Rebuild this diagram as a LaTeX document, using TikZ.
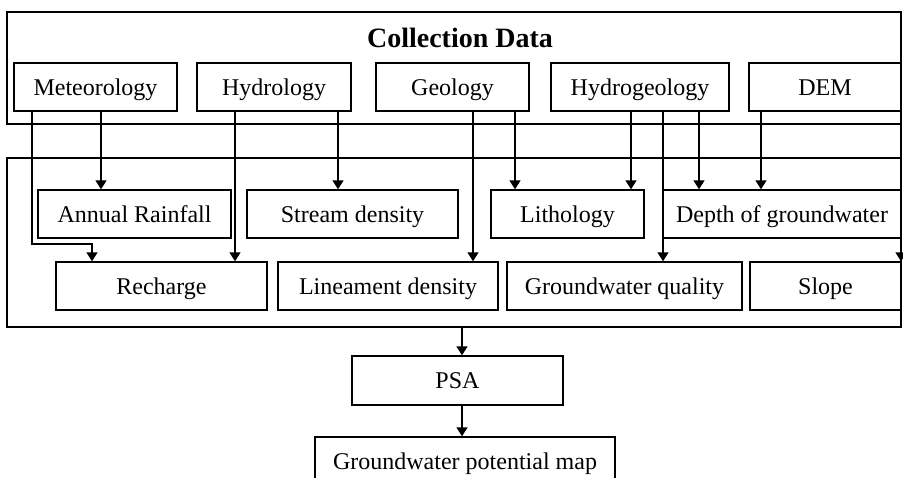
\documentclass[tikz,border=0pt]{standalone}
\usepackage{fontspec}
\setmainfont{Liberation Serif}
\usetikzlibrary{arrows.meta, positioning}

\begin{document}
\begin{tikzpicture}[x=0.5pt, y=-0.5pt, line width=0.7pt,
                    every node/.style={font=\fontsize{12}{14}\selectfont},
                    box/.style={draw, rectangle, inner sep=0pt, minimum height=24pt,
                                text height=8pt, text depth=0pt},
                    frame/.style={draw, rectangle, inner sep=0pt},
                    arr/.style={-{Triangle[width=5.5pt, length=4.5pt]}}]
    \useasboundingbox (0,0) rectangle (903,477);
    \clip (0,0) rectangle (903,477);
    % frames
    \node[frame, minimum width=447pt, minimum height=56pt] (collect) at (454,68) {};
    \node[frame, minimum width=447pt, minimum height=84.5pt] (param) at (454,242.5) {};
    \node[font=\fontsize{14}{16}\selectfont\bfseries, text height=9.5pt, text depth=0pt]
        (title) at (460,38) {Collection Data};
    % data sources
    \node[box, minimum width=81.5pt] (met) at (95.5,87) {Meteorology};
    \node[box, minimum width=77pt] (hyd) at (274,87) {Hydrology};
    \node[box, minimum width=76.5pt] (geo) at (452.5,87) {Geology};
    \node[box, minimum width=89pt] (hgeo) at (640,87) {Hydrogeology};
    \node[box, minimum width=76pt] (dem) at (825,87) {DEM};
    % parameters
    \node[box, minimum width=96.5pt] (rain) at (134.5,214) {Annual Rainfall};
    \node[box, minimum width=105.5pt] (stream) at (352.5,214) {Stream density};
    \node[box, minimum width=76.5pt] (litho) at (567.5,214) {Lithology};
    \node[box, minimum width=119pt] (depth) at (782,214) {Depth of groundwater};
    \node[box, minimum width=105.5pt] (rech) at (161.5,286) {Recharge};
    \node[box, minimum width=110pt] (lin) at (388,286) {Lineament density};
    \node[box, minimum width=117.5pt] (gwq) at (624.5,286) {Groundwater quality};
    \node[box, minimum width=75.5pt] (slope) at (825.5,286) {Slope};
    % analysis
    \node[box, minimum width=105.5pt, minimum height=24.5pt] (psa) at (457.5,380.5) {PSA};
    \node[box, minimum width=150pt] (gpm) at (465,461) {Groundwater potential map};
    % connectors
    \draw[arr] (101,0 |- met.south) -- (101,0 |- rain.north);
    \draw[arr] (32,0 |- met.south) -- (32,244) -- (92,244) -- (92,0 |- rech.north);
    \draw[arr] (235,0 |- hyd.south) -- (235,0 |- rech.north);
    \draw[arr] (338,0 |- hyd.south) -- (338,0 |- stream.north);
    \draw[arr] (473,0 |- geo.south) -- (473,0 |- lin.north);
    \draw[arr] (515,0 |- geo.south) -- (515,0 |- litho.north);
    \draw[arr] (631,0 |- hgeo.south) -- (631,0 |- litho.north);
    \draw[arr] (663,0 |- hgeo.south) -- (663,0 |- gwq.north);
    \draw[arr] (699,0 |- hgeo.south) -- (699,0 |- depth.north);
    \draw[arr] (761,0 |- dem.south) -- (761,0 |- depth.north);
    \draw[arr] (901,0 |- dem.south) -- (901,0 |- slope.north);
    \draw[arr] (462,0 |- param.south) -- (462,0 |- psa.north);
    \draw[arr] (462,0 |- psa.south) -- (462,0 |- gpm.north);
\end{tikzpicture}
\end{document}
